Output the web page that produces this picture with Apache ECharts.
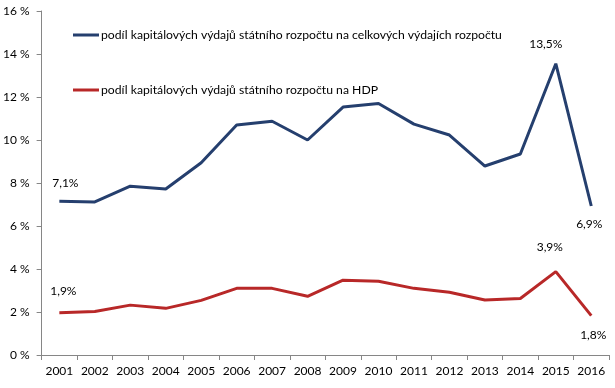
<!DOCTYPE html>
<html>
<head>
<meta charset="utf-8">
<script src="https://cdn.jsdelivr.net/npm/echarts@6/dist/echarts.min.js"></script>
<style>html,body{margin:0;padding:0;background:#fff}#c{width:615px;height:388px}</style>
</head>
<body>
<div id="c"></div>
<script>
const years = ['2001','2002','2003','2004','2005','2006','2007','2008','2009','2010','2011','2012','2013','2014','2015','2016'];
const shareOfTotal = [7.15,7.12,7.85,7.72,8.94,10.7,10.87,10.0,11.53,11.7,10.74,10.23,8.79,9.35,13.55,6.93];
const shareOfGDP = [1.97,2.02,2.32,2.17,2.54,3.1,3.1,2.73,3.48,3.43,3.1,2.92,2.56,2.63,3.88,1.83];
const nameTotal = 'podíl kapitálových výdajů státního rozpočtu na celkových výdajích rozpočtu';
const nameGDP = 'podíl kapitálových výdajů státního rozpočtu na HDP';
const yTicks = [0,2,4,6,8,10,12,14,16];
const labelsTotal = {0:{text:'7,1%',off:[6,-18]},14:{text:'13,5%',off:[-10,-20]},15:{text:'6,9%',off:[-2,18]}};
const labelsGDP = {0:{text:'1,9%',off:[4,-22]},14:{text:'3,9%',off:[-6,-24]},15:{text:'1,8%',off:[2,19]}};

const FONT = 'Lato';
function mk(vals, labels){
  return vals.map((v,i)=>{
    const l = labels[i];
    if(!l) return v;
    return {value:v, label:{show:true, position:'inside', offset:l.off, formatter:l.text, color:'#000', fontFamily:FONT, fontSize:12}};
  });
}
const chart = echarts.init(document.getElementById('c'));
chart.setOption({
  animation:false,
  textStyle:{fontFamily:FONT},
  grid:{left:41,right:6,top:11,bottom:33,containLabel:false},
  legend:[
    {left:68,top:24,itemWidth:26,itemHeight:3,itemGap:5,icon:'rect',data:[nameTotal],textStyle:{color:'#000',fontSize:12.2,fontFamily:FONT,padding:[0,0,0,-3]}},
    {left:68,top:79,itemWidth:26,itemHeight:3,itemGap:5,icon:'rect',data:[nameGDP],textStyle:{color:'#000',fontSize:12.2,fontFamily:FONT,padding:[0,0,0,-3]}}
  ],
  xAxis:{type:'category',data:years,boundaryGap:true,
    axisLine:{lineStyle:{color:'#868686'}},
    axisTick:{show:true,length:5,lineStyle:{color:'#868686'}},
    axisLabel:{color:'#000',fontSize:12,fontFamily:FONT,margin:10,interval:0}},
  yAxis:{type:'value',min:0,max:16,interval:2,
    axisLine:{show:true,lineStyle:{color:'#868686'}},
    axisTick:{show:true,length:5,lineStyle:{color:'#868686'}},
    splitLine:{show:false},
    axisLabel:{color:'#000',fontSize:12,fontFamily:FONT,margin:12,formatter:v=>v+' %'}},
  series:[
    {name:nameTotal,type:'line',data:mk(shareOfTotal,labelsTotal),symbol:'circle',symbolSize:0,showSymbol:true,
      lineStyle:{color:'#253F6E',width:3},itemStyle:{color:'#253F6E'}},
    {name:nameGDP,type:'line',data:mk(shareOfGDP,labelsGDP),symbol:'circle',symbolSize:0,showSymbol:true,
      lineStyle:{color:'#B82828',width:3},itemStyle:{color:'#B82828'}}
  ]
});
</script>
</body>
</html>
